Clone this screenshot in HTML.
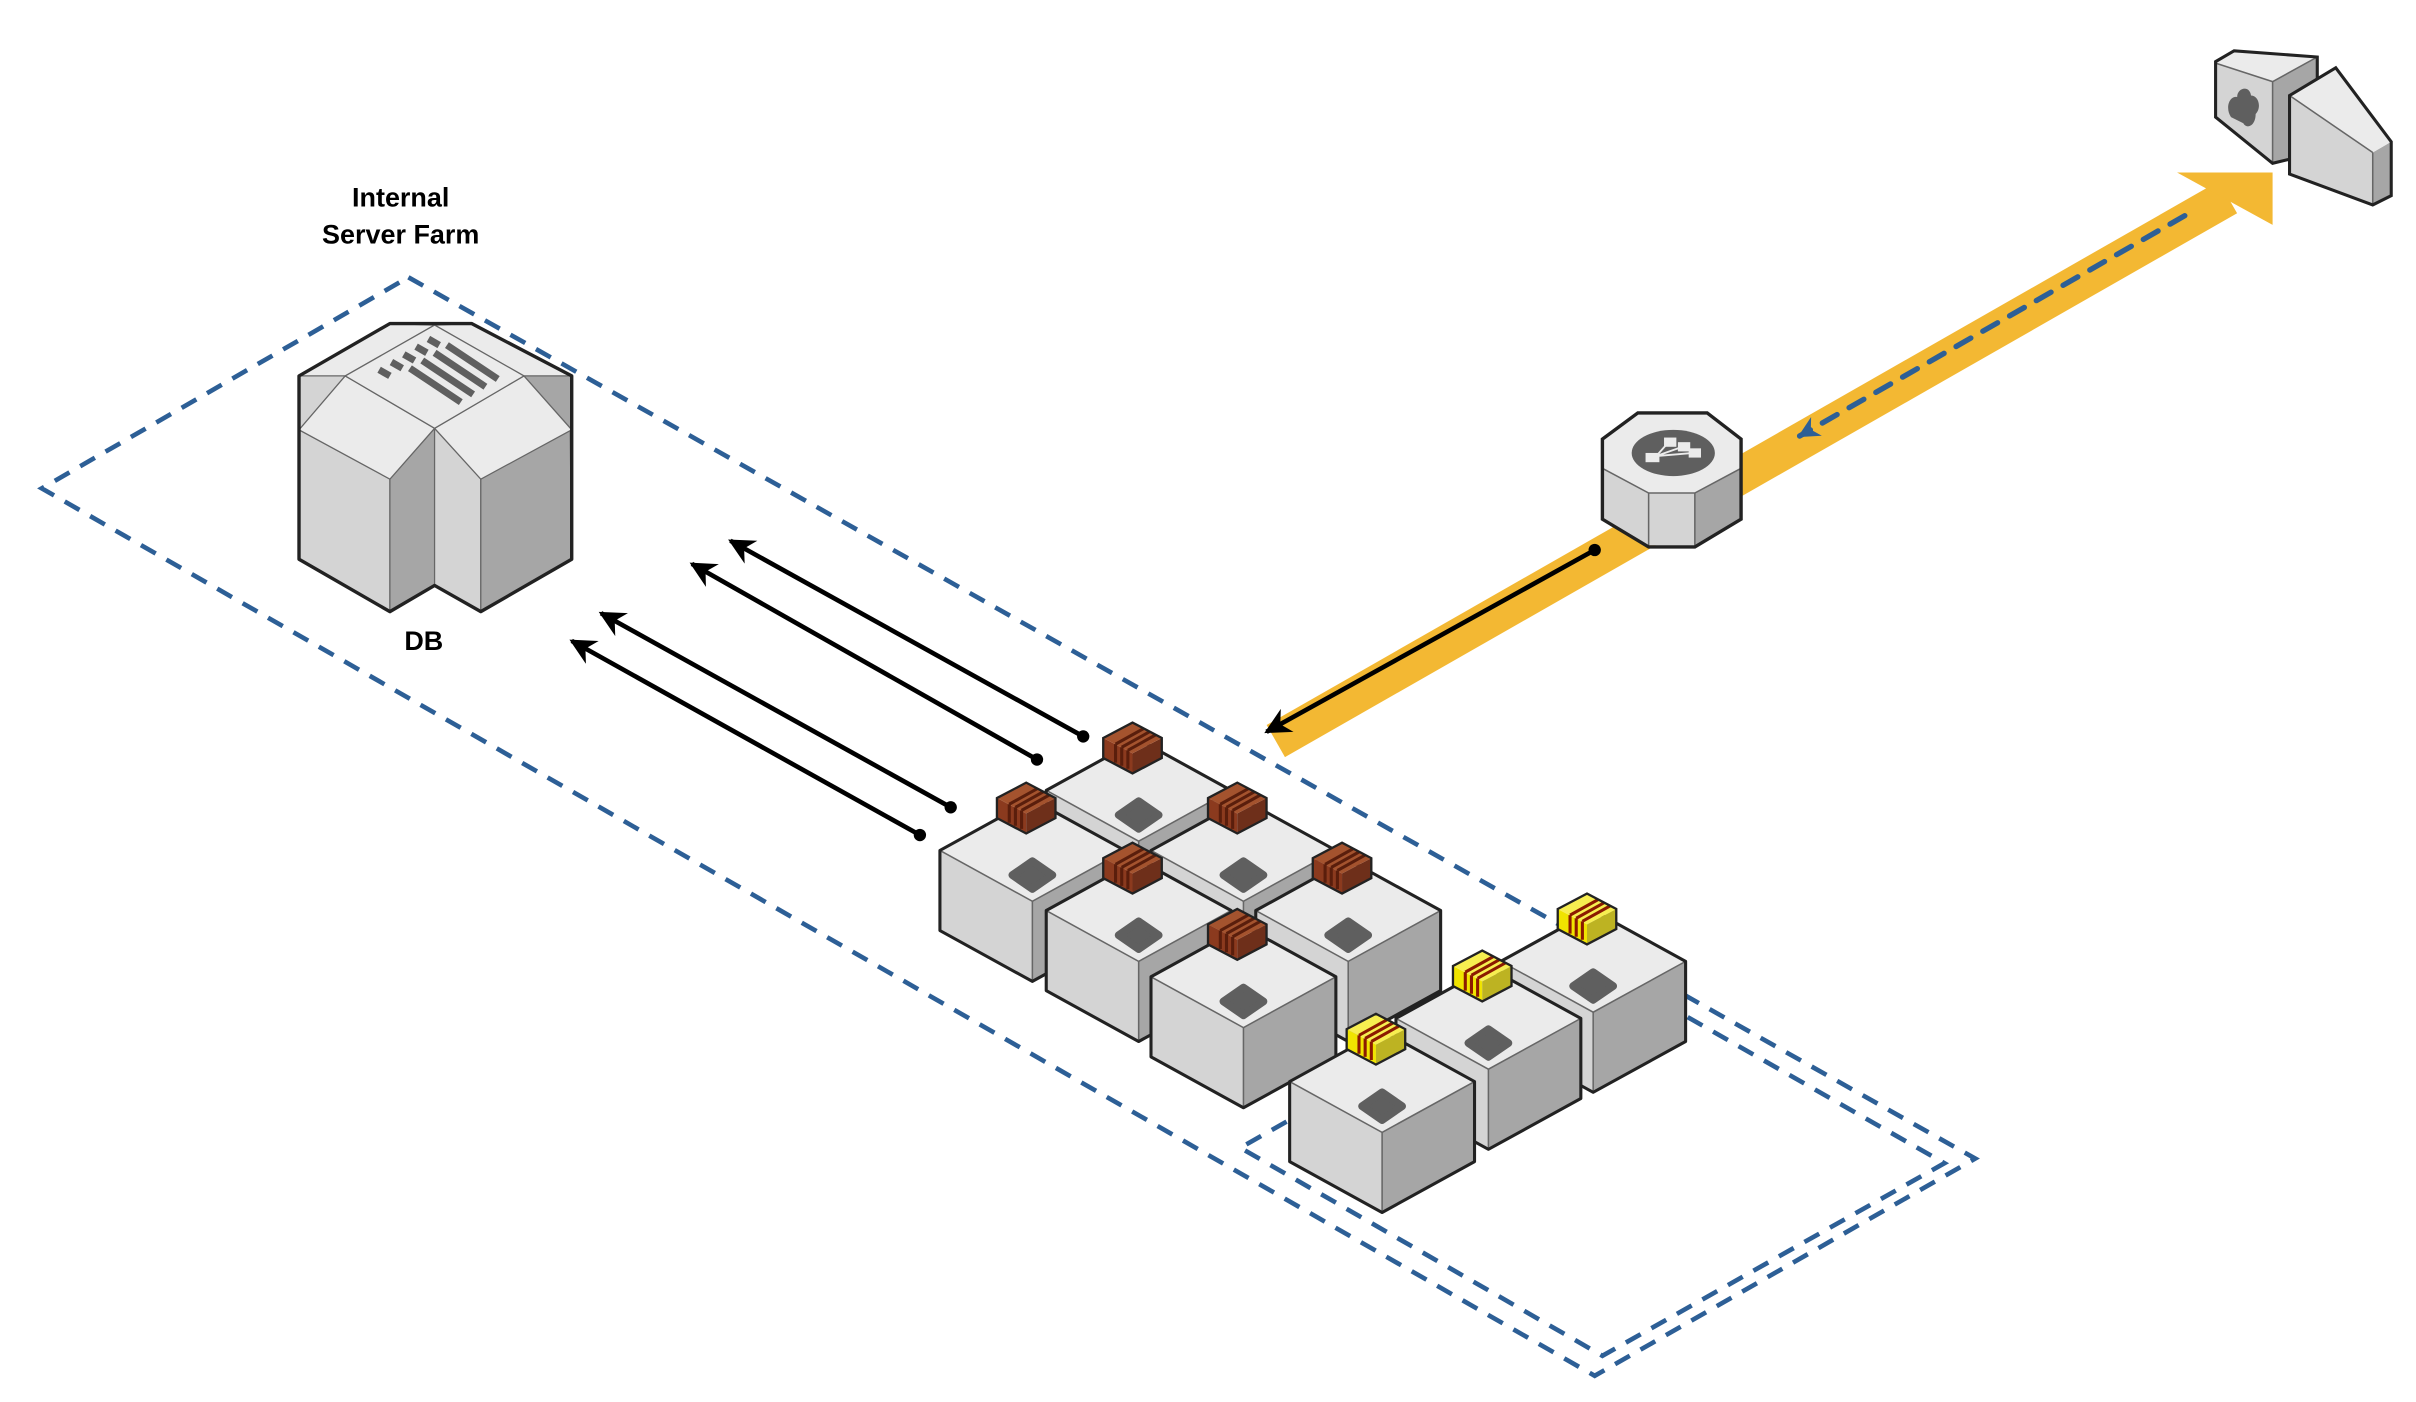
<!DOCTYPE html>
<html><head><meta charset="utf-8"><style>html,body{margin:0;padding:0;background:#fff}svg{display:block}</style></head>
<body>
<svg width="2416" height="1402" viewBox="0 0 1568 910" xmlns="http://www.w3.org/2000/svg">
<defs>
<marker id="ah" viewBox="0 0 10 10" refX="9" refY="5" markerWidth="24" markerHeight="17" markerUnits="userSpaceOnUse" orient="auto">
<path d="M0,0 L10,5 L0,10 L3,5 z" fill="#000"/></marker>
<marker id="bh" viewBox="0 0 10 10" refX="9" refY="5" markerWidth="20" markerHeight="14" markerUnits="userSpaceOnUse" orient="auto">
<path d="M0,0 L10,5 L0,10 L3,5 z" fill="#2d5f96"/></marker>
<g id="cube">
<polygon points="-60,0 0,33 0,85 -60,52" fill="#d4d4d4"/>
<polygon points="0,33 60,0 60,52 0,85" fill="#a6a6a6"/>
<polygon points="-60,0 0,-33 60,0 0,33" fill="#ebebeb"/>
<polyline points="-60,0 0,33 60,0" fill="none" stroke="#666" stroke-width="1"/>
<line x1="0" y1="33" x2="0" y2="85" stroke="#666" stroke-width="1"/>
<polygon points="-60,0 0,-33 60,0 60,52 0,85 -60,52" fill="none" stroke="#222" stroke-width="2" stroke-linejoin="round"/>
<polygon points="-13,16 0,7 13,16 0,25" fill="#5f5f5f" stroke="#5f5f5f" stroke-width="5" stroke-linejoin="round"/>
</g>
<g id="bb">
<polygon points="-19,0 0,10 0,23 -19,13" fill="#8b3a1e"/>
<polygon points="0,10 19,0 19,13 0,23" fill="#6e2f1a"/>
<polygon points="-19,0 0,-10 19,0 0,10" fill="#a4532e"/>
<path d="M-11,4 L7,-6 M-7,6 L11,-4 M-3,8 L15,-2 M-11,4 v12 M-7,6 v12 M-3,8 v12" stroke="#5a1e0c" stroke-width="2" fill="none"/>
<polygon points="-19,0 0,-10 19,0 19,13 0,23 -19,13" fill="none" stroke="#222" stroke-width="1.5"/>
</g>
<g id="yb">
<polygon points="-19,0 0,10 0,23 -19,13" fill="#f0e400"/>
<polygon points="0,10 19,0 19,13 0,23" fill="#bdb322"/>
<polygon points="-19,0 0,-10 19,0 0,10" fill="#f7ee50"/>
<path d="M-11,4 L7,-6 M-7,6 L11,-4 M-3,8 L15,-2 M-11,4 v12 M-7,6 v12 M-3,8 v12" stroke="#8b1a00" stroke-width="2" fill="none"/>
<polygon points="-19,0 0,-10 19,0 19,13 0,23 -19,13" fill="none" stroke="#222" stroke-width="1.5"/>
</g>
</defs>

<g fill="none" stroke="#2d5f96" stroke-width="3" stroke-dasharray="11,8">
<polygon points="265,180 1282,752 1035,893 27,317"/>
<polyline points="835,728 805,745 1040,880 1262,755 1095,660"/>
</g>

<line x1="828" y1="481" x2="1446" y2="128" stroke="#f3b833" stroke-width="24"/>
<polygon points="1413,112 1475,112 1475,146" fill="#f3b833"/>
<line x1="1418" y1="140" x2="1168" y2="283" stroke="#2d5f96" stroke-width="3.5" stroke-dasharray="11,9" stroke-linecap="round" marker-end="url(#bh)"/>
<line x1="1035" y1="357" x2="822" y2="475" stroke="#000" stroke-width="3" marker-end="url(#ah)"/>
<circle cx="1035" cy="357" r="4" fill="#000"/>

<polygon points="1040,304 1070,320 1100,320 1130,304 1130,337 1100,354 1070,354 1040,337" fill="#d4d4d4"/>
<polygon points="1100,320 1130,304 1130,337 1100,354" fill="#a6a6a6"/>
<polygon points="1063,268 1108,268 1130,285 1130,304 1100,320 1070,320 1040,304 1040,285" fill="#ebebeb"/>
<polyline points="1040,304 1070,320 1100,320 1130,304" fill="none" stroke="#666" stroke-width="1"/>
<line x1="1070" y1="320" x2="1070" y2="354" stroke="#666" stroke-width="1"/>
<line x1="1100" y1="320" x2="1100" y2="354" stroke="#666" stroke-width="1"/>
<polygon points="1063,268 1108,268 1130,285 1130,337 1100,355 1070,355 1040,337 1040,285" fill="none" stroke="#222" stroke-width="2.2"/>
<ellipse cx="1086" cy="294" rx="27" ry="15" fill="#5f5f5f"/>
<g fill="#ebebeb"><rect x="1068" y="294" width="9" height="6"/><rect x="1080" y="284" width="8" height="6"/><rect x="1089" y="287" width="8" height="6"/><rect x="1096" y="291" width="8" height="6"/></g>
<path d="M1075,296 L1083,287 M1075,296 L1092,290 M1075,296 L1099,294" stroke="#ebebeb" stroke-width="1.2"/>

<polygon points="1438,41 1475,53 1475,106 1438,76" fill="#d4d4d4"/>
<polygon points="1475,53 1504,37 1504,99 1475,106" fill="#a6a6a6"/>
<polygon points="1438,41 1450,33 1504,37 1475,53" fill="#ebebeb"/>
<polyline points="1438,41 1475,53 1504,37" fill="none" stroke="#666" stroke-width="1"/>
<line x1="1475" y1="53" x2="1475" y2="106" stroke="#666"/>
<polygon points="1438,40 1450,33 1504,37 1504,99 1475,106 1438,76" fill="none" stroke="#222" stroke-width="2"/>
<path d="M1448,76 C1444,70 1447,62 1452,63 C1452,57 1460,55 1461,62 C1466,62 1468,70 1464,74 C1464,82 1458,84 1456,80 Z" fill="#5f5f5f"/>
<polygon points="1486,62 1540,99 1540,133 1486,113" fill="#d4d4d4"/>
<polygon points="1540,99 1552,92 1552,127 1540,133" fill="#a6a6a6"/>
<polygon points="1486,62 1516,44 1552,92 1540,99" fill="#ebebeb"/>
<line x1="1486" y1="62" x2="1540" y2="99" stroke="#666"/>
<line x1="1540" y1="99" x2="1540" y2="133" stroke="#666"/>
<polygon points="1486,62 1516,44 1552,92 1552,127 1540,133 1486,113" fill="none" stroke="#222" stroke-width="2"/>

<g stroke="#666" stroke-width="0.8" stroke-linejoin="round">
<polygon points="194,279 253,311 253,397 194,363" fill="#d4d4d4"/>
<polygon points="253,311 282,278 282,380 253,397" fill="#a6a6a6"/>
<polygon points="282,278 312,311 312,397 282,380" fill="#d4d4d4"/>
<polygon points="312,311 370,279 371,363 312,397" fill="#a6a6a6"/>
<polygon points="194,244 224,244 194,279" fill="#d4d4d4"/>
<polygon points="340,244 371,244 371,279" fill="#a6a6a6"/>
<polygon points="253,210 282,211 224,244 194,244" fill="#ebebeb"/>
<polygon points="306,210 282,211 340,244 371,244" fill="#ebebeb"/>
<polygon points="224,244 282,278 253,311 194,279" fill="#ebebeb"/>
<polygon points="340,244 371,279 312,311 282,278" fill="#ebebeb"/>
<polygon points="282,211 340,244 282,278 224,244" fill="#ebebeb"/>
</g>
<polygon points="253,210 306,210 371,244 371,363 312,397 282,380 253,397 194,363 194,244" fill="none" stroke="#222" stroke-width="2.2" stroke-linejoin="round"/>
<g stroke="#5f5f5f" stroke-width="4.5" stroke-linecap="butt">
<line x1="290" y1="224" x2="323" y2="246"/>
<line x1="282" y1="229" x2="315" y2="251"/>
<line x1="274" y1="234" x2="307" y2="256"/>
<line x1="266" y1="239" x2="299" y2="261"/>
<line x1="278" y1="220" x2="285" y2="224"/>
<line x1="270" y1="225" x2="277" y2="229"/>
<line x1="262" y1="230" x2="269" y2="234"/>
<line x1="254" y1="235" x2="261" y2="239"/>
<line x1="246" y1="240" x2="253" y2="244"/>
</g>

<g stroke="#000" stroke-width="3" marker-end="url(#ah)">
<line x1="703" y1="478" x2="474" y2="351"/>
<line x1="673" y1="493" x2="449" y2="366"/>
<line x1="617" y1="524" x2="390" y2="398"/>
<line x1="597" y1="542" x2="371" y2="416"/>
</g>
<g fill="#000"><circle cx="703" cy="478" r="4"/><circle cx="673" cy="493" r="4"/><circle cx="617" cy="524" r="4"/><circle cx="597" cy="542" r="4"/></g>

<use href="#cube" x="739" y="513"/><use href="#bb" x="735" y="479"/>
<use href="#cube" x="670" y="552"/><use href="#bb" x="666" y="518"/>
<use href="#cube" x="807" y="552"/><use href="#bb" x="803" y="518"/>
<use href="#cube" x="739" y="591"/><use href="#bb" x="735" y="557"/>
<use href="#cube" x="875" y="591"/><use href="#bb" x="871" y="557"/>
<use href="#cube" x="1034" y="624"/><use href="#yb" x="1030" y="590"/>
<use href="#cube" x="807" y="634"/><use href="#bb" x="803" y="600"/>
<use href="#cube" x="966" y="661"/><use href="#yb" x="962" y="627"/>
<use href="#cube" x="897" y="702"/><use href="#yb" x="893" y="668"/>

<g font-family="Liberation Sans, Arial, sans-serif" font-weight="bold" font-size="17.5" fill="#000" text-anchor="middle">
<text x="260" y="134">Internal</text>
<text x="260" y="158">Server Farm</text>
<text x="275" y="422">DB</text>
</g>
</svg>
</body></html>
